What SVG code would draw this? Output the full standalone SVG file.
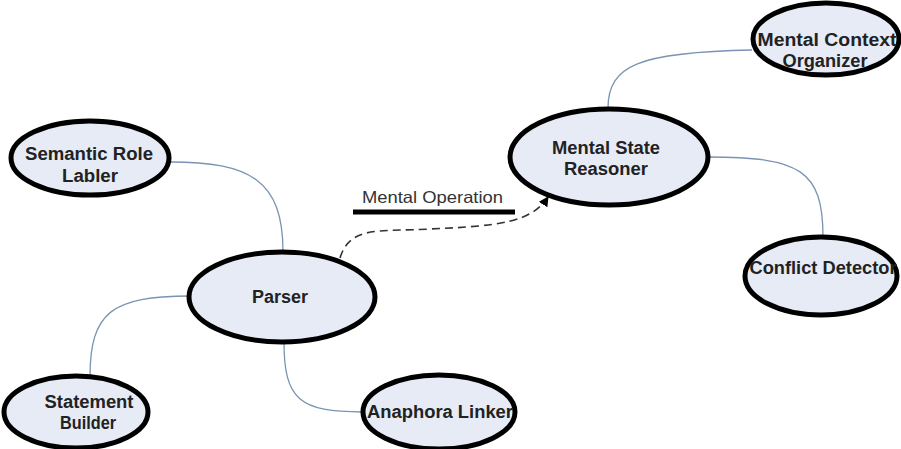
<svg xmlns="http://www.w3.org/2000/svg" width="901" height="449" viewBox="0 0 901 449">
<style>
.node ellipse{fill:#e6ebf6;stroke:#000;stroke-width:5}
.node text{font-family:"Liberation Sans",Arial,sans-serif;font-weight:bold;font-size:18px;fill:#222;text-anchor:middle}
.conn{fill:none;stroke:#7a93b2;stroke-width:1.3}
.dash{fill:none;stroke:#333;stroke-width:1.6;stroke-dasharray:8 5}
.lbl{font-family:"Liberation Sans",Arial,sans-serif;font-size:16.5px;fill:#333}
</style>
<defs>
<marker id="arr" viewBox="0 0 10 10" refX="9" refY="5" markerWidth="10" markerHeight="10" markerUnits="userSpaceOnUse" orient="auto">
<path d="M0,0 L10,5 L0,10 z" fill="#000"/>
</marker>
</defs>
<rect width="901" height="449" fill="#fff"/>
<g id="connectors">
<path class="conn" d="M170,162 C250,162 283,180 283,252"/>
<path class="conn" d="M190,296 C112,296 90,312 90,377"/>
<path class="conn" d="M284,342 C284,400 300,412 363,412"/>
<path class="conn" d="M608,108 C608,65 640,52 752,50"/>
<path class="conn" d="M708,157 C800,157 823,170 823,237"/>
<path class="dash" d="M340,258 C350,225 380,232 430,229 C500,226 532,222 548,197" marker-end="url(#arr)"/>
</g>
<g id="label-mental-operation">
<text class="lbl" x="362" y="203" textLength="141" lengthAdjust="spacingAndGlyphs">Mental Operation</text>
<line x1="353" y1="212" x2="515" y2="212" stroke="#000" stroke-width="5"/>
</g>
<g id="semantic-role-labler" class="node">
<ellipse cx="90" cy="158" rx="79" ry="37"/>
<text x="89" y="160" textLength="128" lengthAdjust="spacingAndGlyphs">Semantic Role</text>
<text x="90" y="182" textLength="56" lengthAdjust="spacingAndGlyphs">Labler</text>
</g>
<g id="parser" class="node">
<ellipse cx="282" cy="297" rx="93" ry="45"/>
<text x="280" y="303" textLength="56" lengthAdjust="spacingAndGlyphs">Parser</text>
</g>
<g id="mental-state-reasoner" class="node">
<ellipse cx="609" cy="157" rx="99" ry="48"/>
<text x="606" y="154" textLength="108" lengthAdjust="spacingAndGlyphs">Mental State</text>
<text x="606" y="175" textLength="84" lengthAdjust="spacingAndGlyphs">Reasoner</text>
</g>
<g id="mental-context-organizer" class="node">
<ellipse cx="826" cy="39" rx="73" ry="36"/>
<text x="827" y="46" textLength="139" lengthAdjust="spacingAndGlyphs">Mental Context</text>
<text x="825" y="67" textLength="85" lengthAdjust="spacingAndGlyphs">Organizer</text>
</g>
<g id="conflict-detector" class="node">
<ellipse cx="821" cy="276" rx="76" ry="39"/>
<text x="823" y="274" textLength="147" lengthAdjust="spacingAndGlyphs">Conflict Detector</text>
</g>
<g id="statement-builder" class="node">
<ellipse cx="76" cy="412" rx="72" ry="36"/>
<text x="89" y="408" textLength="89" lengthAdjust="spacingAndGlyphs">Statement</text>
<text x="88" y="429" textLength="56" lengthAdjust="spacingAndGlyphs">Builder</text>
</g>
<g id="anaphora-linker" class="node">
<ellipse cx="439" cy="412" rx="76" ry="37"/>
<text x="440" y="418" textLength="146" lengthAdjust="spacingAndGlyphs">Anaphora Linker</text>
</g>
</svg>
